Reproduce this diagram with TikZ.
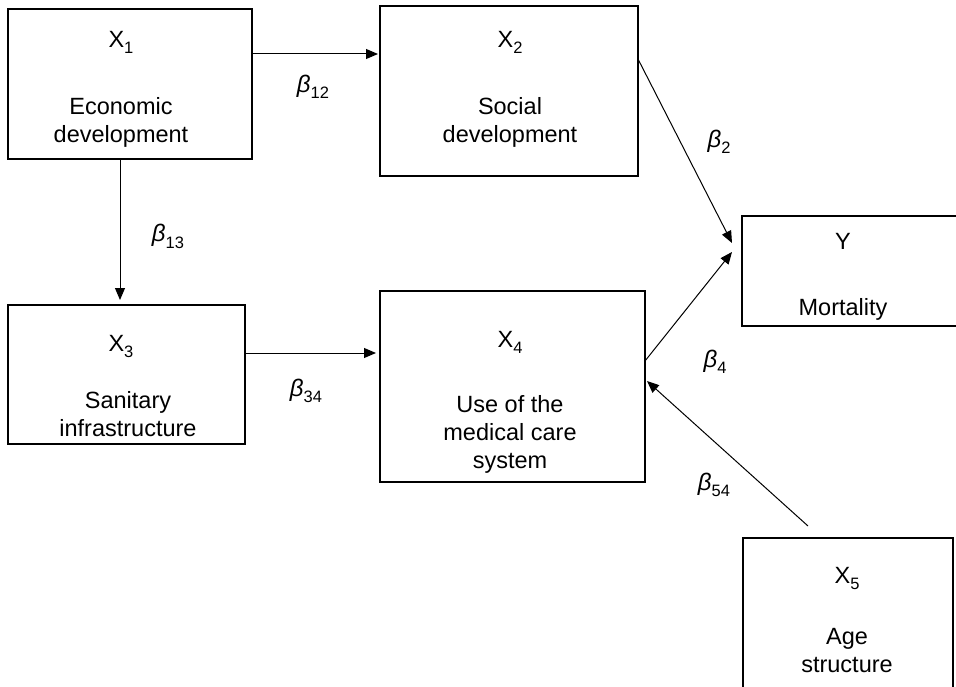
\documentclass[tikz,border=0pt]{standalone}
\usepackage{fontspec}
\setmainfont{Liberation Sans}
\usetikzlibrary{arrows.meta}
\newcommand\lowsub[1]{\raisebox{-6pt}{\fontsize{16.5}{16.5}\selectfont #1}}
\begin{document}
\begin{tikzpicture}[x=1pt,y=-1pt,
  box/.style={draw=black, line width=1.1pt, inner sep=0pt, outer sep=0pt, anchor=north west},
  lbl/.style={font=\fontsize{23.5}{28}\selectfont, inner sep=0pt, anchor=base, align=center},
  coef/.style={font=\fontsize{24}{28}\selectfont, inner sep=0pt, anchor=base},
  arr/.style={line width=1pt, -{Triangle[length=12pt,width=10pt]}}]
\useasboundingbox (0,0) rectangle (956,687);
\fill[white] (0,0) rectangle (956,687);
\clip (0,0) rectangle (956,687);
% boxes
\node[box, minimum width=244pt, minimum height=150pt] (x1) at (8,9) {};
\node[box, minimum width=258pt, minimum height=170pt] (x2) at (380,6) {};
\node[box, minimum width=237pt, minimum height=139pt] (x3) at (8,305) {};
\node[box, minimum width=265pt, minimum height=191pt] (x4) at (380,291) {};
\node[box, minimum width=240pt, minimum height=110pt] (y) at (742,216) {};
\node[box, minimum width=210pt, minimum height=170pt] (x5) at (743,538) {};
% texts (base = baseline of the last line)
\node[lbl] (x1t) at (121,48) {X\lowsub{1}};
\node[lbl] (x1d) at (121,143) {Economic\\development};
\node[lbl] (x2t) at (510,48) {X\lowsub{2}};
\node[lbl] (x2d) at (510,143) {Social\\development};
\node[lbl] (x3t) at (121,351) {X\lowsub{3}};
\node[lbl] (x3d) at (128,436) {Sanitary\\infrastructure};
\node[lbl] (x4t) at (510,347) {X\lowsub{4}};
\node[lbl] (x4d) at (510,468) {Use of the\\medical care\\system};
\node[lbl] (yt) at (843,250) {Y};
\node[lbl] (yd) at (843,315) {Mortality};
\node[lbl] (x5t) at (847,583) {X\lowsub{5}};
\node[lbl] (x5d) at (847,672) {Age\\structure};
% connectors
\draw[arr, shorten >=2pt] ([yshift=-45pt]x1.north east) -- ([yshift=-48pt]x2.north west);
\draw[arr, shorten >=5pt] ([xshift=112pt]x1.south west) -- ([xshift=112pt]x3.north west);
\draw[arr, shorten >=4pt] ([yshift=-48pt]x3.north east) -- ([yshift=-62pt]x4.north west);
\draw[arr] ([yshift=-53pt]x2.north east) -- ([xshift=-10pt,yshift=-27pt]y.north west);
\draw[arr] ([yshift=-70pt]x4.north east) -- ([xshift=-10pt,yshift=-36pt]y.north west);
\coordinate (c5) at ([xshift=65pt,yshift=12pt]x5.north west);
\draw[arr] (c5) -- ([xshift=2pt,yshift=-90pt]x4.north east);
% coefficients
\node[coef] (b12) at (313,93) {\textit{β}\lowsub{12}};
\node[coef] (b13) at (168,242) {\textit{β}\lowsub{13}};
\node[coef] (b34) at (306,396) {\textit{β}\lowsub{34}};
\node[coef] (b2) at (719,148) {\textit{β}\lowsub{2}};
\node[coef] (b4) at (715,367) {\textit{β}\lowsub{4}};
\node[coef] (b54) at (714,490) {\textit{β}\lowsub{54}};
\end{tikzpicture}
\end{document}
